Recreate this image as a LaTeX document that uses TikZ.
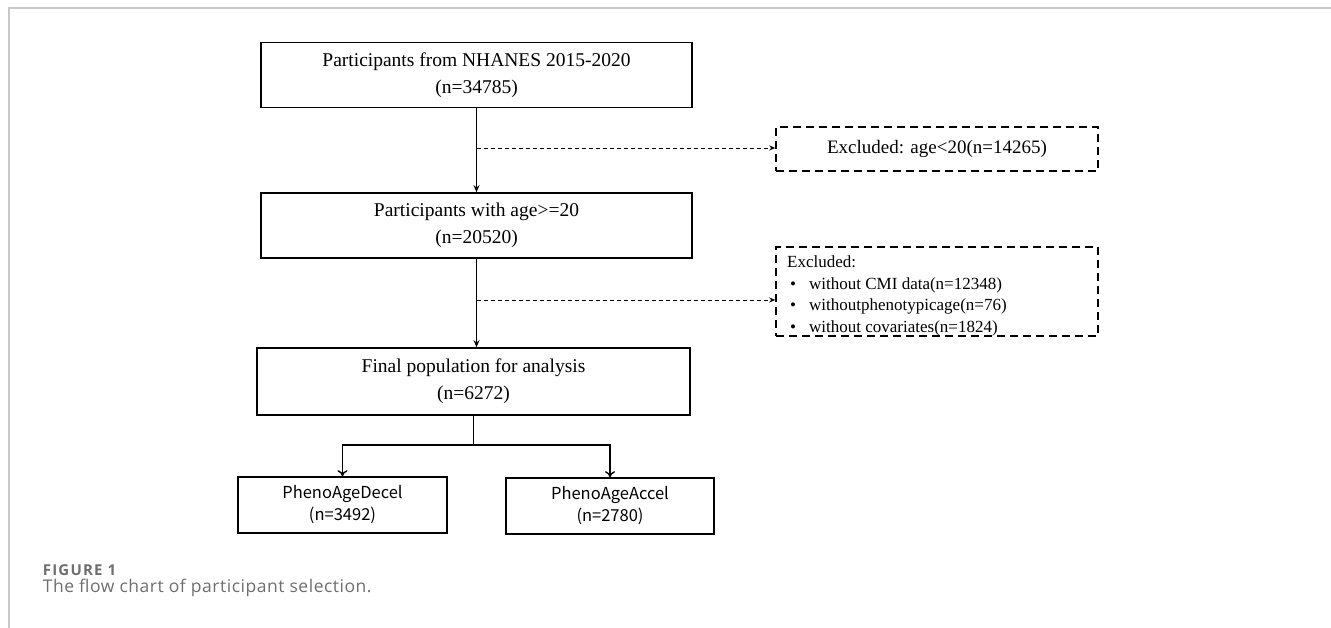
\documentclass[tikz,border=0pt]{standalone}
\usepackage{fontspec}
\setmainfont{Liberation Serif}
\newfontfamily\capfont[LetterSpace=3]{Open Sans}
\newfontfamily\figfont[LetterSpace=8]{Open Sans}
\newfontfamily\krfont{Noto Sans CJK KR}
\usetikzlibrary{arrows.meta}
\definecolor{framegray}{HTML}{C8C8C8}
\definecolor{capgray}{HTML}{6E6E6E}
\tikzset{
  mainbox/.style={draw, line width=1.6pt, minimum width=431pt, minimum height=65pt, align=center, inner sep=0pt,
    font=\fontsize{19.5}{27}\selectfont},
  exbox/.style={draw, line width=1.6pt, dash pattern=on 8pt off 5pt, inner sep=0pt},
  subbox/.style={draw, line width=1.6pt, minimum width=209pt, minimum height=56pt, align=center, inner sep=0pt,
    font=\krfont\fontsize{16.5}{22}\selectfont},
  mainarrow/.style={line width=1.4pt, -{Stealth[length=7pt,width=6pt]}},
  subarrow/.style={line width=1.4pt, -{To[length=6pt,width=10pt]}},
  dasharrow/.style={line width=0.9pt, dash pattern=on 4pt off 3pt, -{Stealth[length=6pt,width=5pt]}},
  capstyle/.style={anchor=base west, inner sep=0pt, text=capgray}
}
\begin{document}
\begin{tikzpicture}[x=1pt,y=-1pt]
\useasboundingbox (0,0) rectangle (1331,628);
% frame
\draw[framegray, line width=1.4pt] (9,628) -- (9,8) -- (1331,8);

\node[mainbox] (b1) at (476.5,75) {Participants from NHANES 2015-2020\\(n=34785)};
\node[mainbox] (b2) at (476.5,225.5) {Participants with age>=20\\(n=20520)};
\node[mainbox, minimum width=433pt, minimum height=67pt] (b3) at (473.5,381.5) {Final population for analysis\\(n=6272)};

\node[exbox, minimum width=322pt, minimum height=44pt, font=\fontsize{19}{23}\selectfont] (e1) at (937,149) {Excluded: age<20(n=14265)};
\node[exbox, minimum width=322pt, minimum height=89pt] (e2) at (937,291.5) {};
\node[anchor=north west, inner sep=0pt, align=left, font=\fontsize{17}{21.5}\selectfont] (e2t) at (787,256)
  {Excluded:\\
   \makebox[22pt][l]{\hspace{3pt}•}without CMI data(n=12348)\\
   \makebox[22pt][l]{\hspace{3pt}•}withoutphenotypicage(n=76)\\
   \makebox[22pt][l]{\hspace{3pt}•}without covariates(n=1824)};

\node[subbox] (d1) at (342.5,505) {PhenoAgeDecel\\(n=3492)};
\node[subbox, minimum width=208pt] (d2) at (610,506) {PhenoAgeAccel\\(n=2780)};

% main flow
\draw[mainarrow] (b1.south) -- (b2.north);
\draw[mainarrow] (b2.south) -- (b2.south |- b3.north);
\coordinate (j1) at (476.5,148);
\coordinate (j2) at (476.5,300);
\draw[dasharrow] (j1) -- (e1.west |- j1);
\draw[dasharrow] (j2) -- (e2.west |- j2);

% branch
\coordinate (br) at (473.5,445);
\draw[line width=1.4pt] (b3.south) -- (br);
\draw[subarrow] (br) -| (d1.north);
\draw[subarrow] (br) -| (d2.north);

% caption
\node[capstyle, font=\figfont\bfseries\fontsize{15}{18}\selectfont] (fig) at (42.7,575) {FIGURE 1};
\node[capstyle, font=\capfont\fontsize{17.5}{21}\selectfont] (cap) at (42.7,592) {The flow chart of participant selection.};
\end{tikzpicture}
\end{document}
